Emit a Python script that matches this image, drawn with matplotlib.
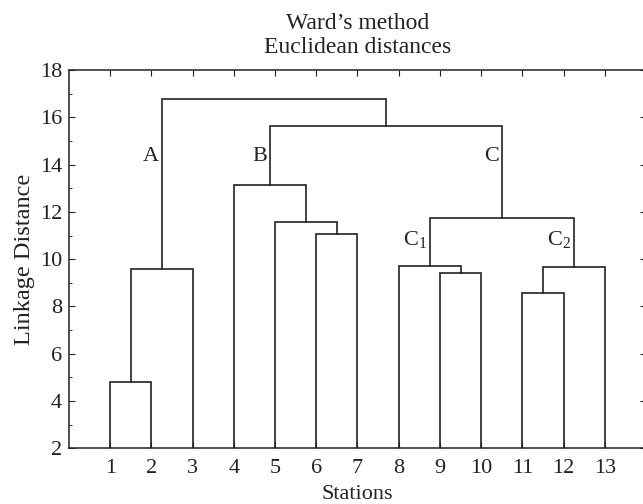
import numpy as np
import matplotlib
matplotlib.use("Agg")
import matplotlib.pyplot as plt
from matplotlib.ticker import MultipleLocator

# leaves (stations) in plotting order
stations = list(range(1, 14))

# merges: node ids 1..13 are the stations, new nodes numbered from 14 up
merge_left = [1, 14, 6, 5, 4, 9, 8, 11, 21, 20, 18, 15]
merge_right = [2, 3, 7, 16, 17, 10, 19, 12, 13, 22, 23, 24]
merge_height = [4.81, 9.59, 11.06, 11.57, 13.12, 9.41, 9.69, 8.55, 9.65, 11.74, 15.62, 16.79]

# cluster labels: (text, node id, label height)
cluster_text = ["A", "B", "C", r"C$_\mathregular{1}$", r"C$_\mathregular{2}$"]
cluster_node = [15, 18, 23, 20, 22]
cluster_y = [14.35, 14.35, 14.35, 10.82, 10.82]

base = 2.0
plt.rcParams['font.family'] = ['Liberation Serif', 'DejaVu Serif']
plt.rcParams['mathtext.fontset'] = 'stix'
fs = 16

fig = plt.figure(figsize=(6.43, 5.04), dpi=100)
ax = fig.add_axes([69 / 643, 55.7 / 504, 577 / 643, 378.3 / 504])

xpos = {s: float(s) for s in stations}
ypos = {s: base for s in stations}
lc = '#222222'
for i, (l, r, h) in enumerate(zip(merge_left, merge_right, merge_height)):
    node = 14 + i
    ax.plot([xpos[l], xpos[l], xpos[r], xpos[r]], [ypos[l], h, h, ypos[r]],
            color=lc, lw=1.2, solid_joinstyle='miter')
    xpos[node] = (xpos[l] + xpos[r]) / 2
    ypos[node] = h

for txt, node, y in zip(cluster_text, cluster_node, cluster_y):
    ax.annotate(txt, (xpos[node], y), xytext=(-2, 0), textcoords='offset points',
                ha='right', va='center', fontsize=fs, color='#222222')

ax.set_xlim(0, 14)
ax.set_ylim(2, 18)
ax.set_xticks(stations)
ax.yaxis.set_major_locator(MultipleLocator(2))
ax.yaxis.set_minor_locator(MultipleLocator(1))
ax.tick_params(axis='x', direction='in', top=True, length=4, labelsize=fs, pad=8, colors='#222222')
ax.tick_params(axis='y', which='both', direction='in', right=True, labelsize=fs, pad=5, colors='#222222')
ax.tick_params(axis='y', which='major', length=4)
ax.tick_params(axis='y', which='minor', length=2.5)
for sp in ax.spines.values():
    sp.set_color('#222222')
    sp.set_linewidth(1.1)

ax.set_xlabel("Stations", fontsize=fs, color='#222222', labelpad=5)
ax.set_ylabel("Linkage Distance", fontsize=17.5, color='#222222')
ax.yaxis.set_label_coords(-34 / 577, 0.5)
ax.set_title("Ward\u2019s method\nEuclidean distances", fontsize=17, color='#222222',
             linespacing=1.2, pad=12)

fig.savefig("out.png", dpi=100)
